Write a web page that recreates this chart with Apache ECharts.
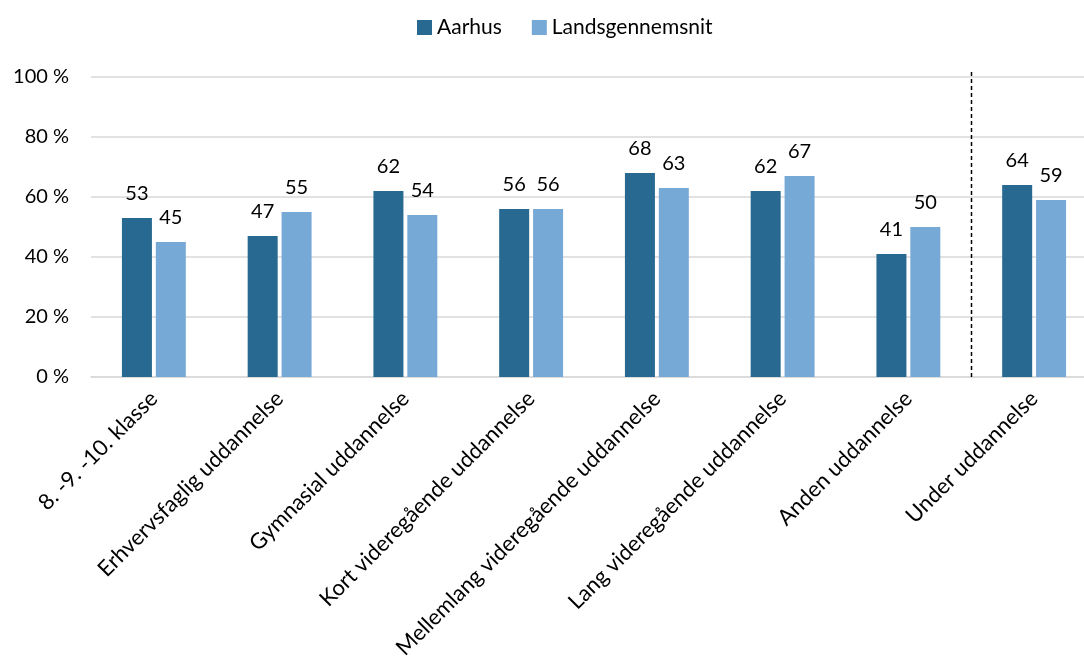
<!DOCTYPE html>
<html>
<head>
<meta charset="utf-8">
<script src="https://cdn.jsdelivr.net/npm/echarts@6/dist/echarts.min.js"></script>
<style>
  html, body { margin: 0; padding: 0; background: #fff; }
  #chart { width: 1084px; height: 669px; }
</style>
</head>
<body>
<div id="chart"></div>
<script>
// Uddannelsesniveau: andel i procent, Aarhus mod landsgennemsnit
const categories = [
  '8. -9. -10. klasse',
  'Erhvervsfaglig uddannelse',
  'Gymnasial uddannelse',
  'Kort videregående uddannelse',
  'Mellemlang videregående uddannelse',
  'Lang videregående uddannelse',
  'Anden uddannelse',
  'Under uddannelse'
];
const aarhus = [53, 47, 62, 56, 68, 62, 41, 64];
const landsgennemsnit = [45, 55, 54, 56, 63, 67, 50, 59];
const seriesNames = ['Aarhus', 'Landsgennemsnit'];
const yTicks = [0, 20, 40, 60, 80, 100];

const FONT = 'Lato';
const TEXT = '#000000';

const chart = echarts.init(document.getElementById('chart'), null, { renderer: 'canvas' });

const labelStyle = {
  show: true,
  position: 'top',
  distance: 14,
  fontFamily: FONT,
  fontSize: 20,
  color: TEXT
};

chart.setOption({
  animation: false,
  textStyle: { fontFamily: FONT },
  legend: {
    data: seriesNames,
    top: 12,
    left: 412,
    itemWidth: 15,
    itemHeight: 15,
    itemGap: 30,
    itemStyle: { borderWidth: 0 },
    icon: 'rect',
    textStyle: { fontFamily: FONT, fontSize: 21, color: TEXT }
  },
  grid: { left: 91, top: 77, width: 1006, bottom: 292, outerBoundsMode: 'none' },
  xAxis: {
    type: 'category',
    data: categories,
    axisLine: { show: true, lineStyle: { color: '#d9d9d9', width: 1.5 } },
    axisTick: { show: false },
    axisLabel: {
      interval: 0,
      rotate: 45,
      margin: 18,
      fontFamily: FONT,
      fontSize: 22,
      color: TEXT
    }
  },
  yAxis: {
    type: 'value',
    min: yTicks[0],
    max: yTicks[yTicks.length - 1],
    interval: yTicks[1] - yTicks[0],
    axisLine: { show: false },
    axisTick: { show: false },
    splitLine: { lineStyle: { color: '#d9d9d9', width: 1.5 } },
    axisLabel: {
      margin: 22,
      fontFamily: FONT,
      fontSize: 20,
      color: TEXT,
      formatter: v => v + ' %'
    }
  },
  series: [
    {
      name: seriesNames[0],
      type: 'bar',
      data: aarhus,
      barWidth: 30,
      barGap: '13%',
      itemStyle: { color: '#276990' },
      label: labelStyle
    },
    {
      name: seriesNames[1],
      type: 'bar',
      data: landsgennemsnit,
      barWidth: 30,
      barGap: '13%',
      itemStyle: { color: '#77a9d7' },
      label: labelStyle
    }
  ]
});

// Stiplet skillelinje mellem de afsluttede uddannelser og "Under uddannelse"
function drawDivider() {
  const a = chart.convertToPixel({ xAxisIndex: 0 }, categories[categories.length - 2]);
  const b = chart.convertToPixel({ xAxisIndex: 0 }, categories[categories.length - 1]);
  const x = Math.round((a + b) / 2) + 0.5;
  const yTop = chart.convertToPixel({ yAxisIndex: 0 }, yTicks[yTicks.length - 1]) - 5;
  const yBottom = chart.convertToPixel({ yAxisIndex: 0 }, yTicks[0]);
  chart.setOption({
    graphic: [{
      type: 'line',
      shape: { x1: x, y1: yTop, x2: x, y2: yBottom },
      style: { stroke: '#000000', lineWidth: 1.5, lineDash: [4, 3] },
      z: 10
    }]
  });
}
drawDivider();
</script>
</body>
</html>
